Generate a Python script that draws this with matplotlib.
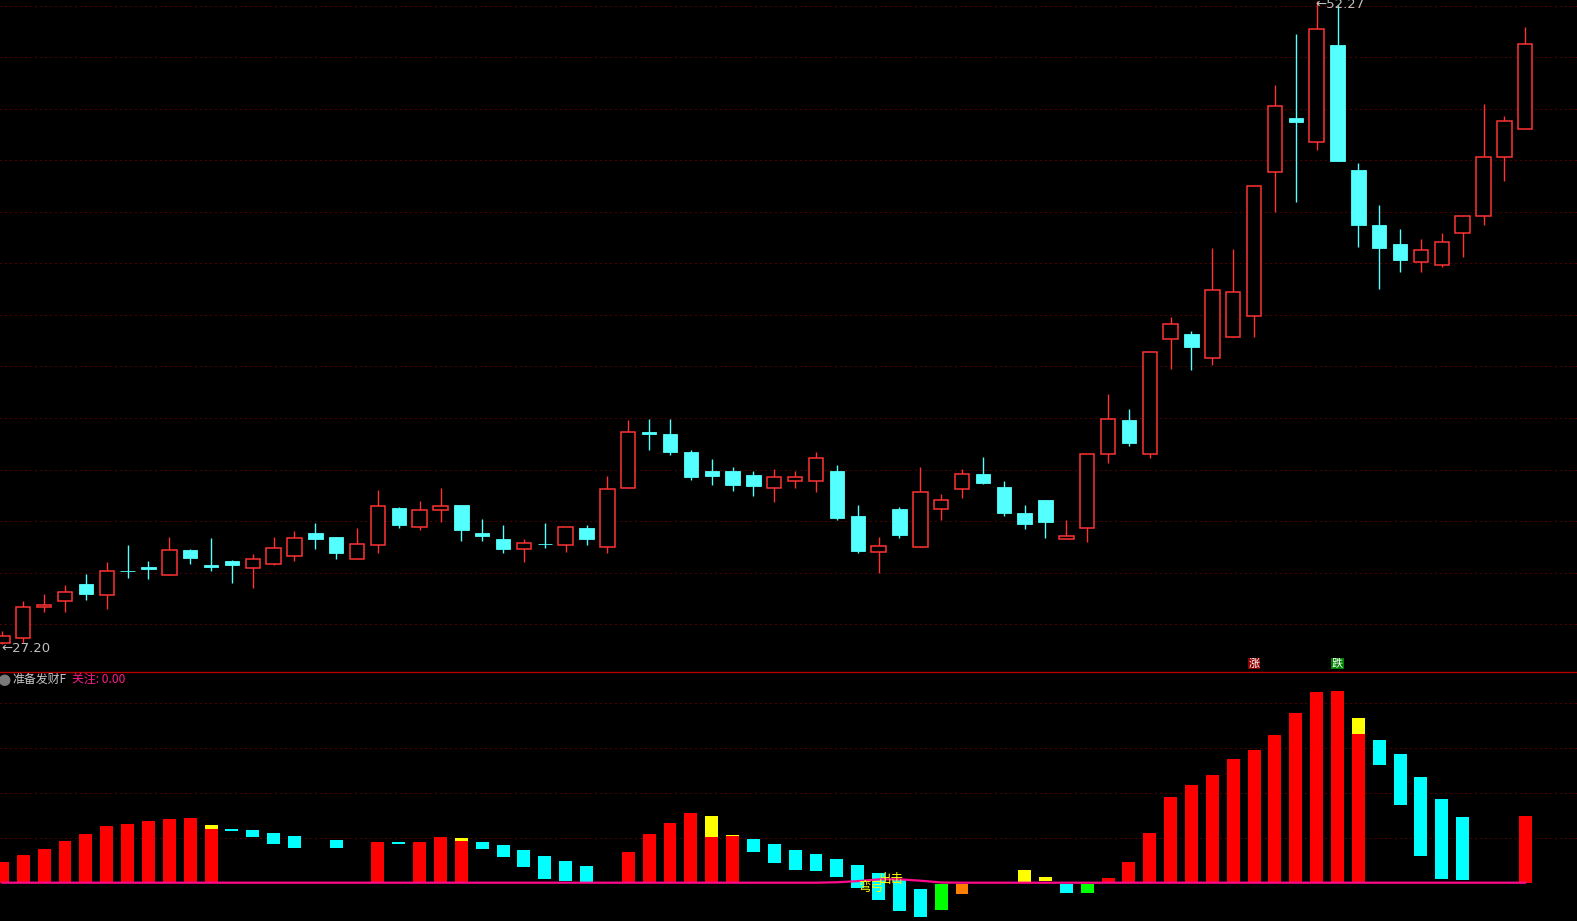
import numpy as np
import matplotlib.pyplot as plt

plt.rcParams['font.family'] = ['Noto Sans CJK SC', 'DejaVu Sans']

# daily candles (open, high, low, close)
opens = [27.24, 27.45, 28.63, 28.87, 29.54, 29.12, 30.05, 30.20, 29.90, 30.87,
         30.28, 30.43, 30.18, 30.33, 30.62, 31.53, 31.37, 30.53, 31.05, 32.50,
         31.77, 32.41, 32.62, 31.53, 31.30, 30.89, 31.11, 31.05, 31.72, 30.97,
         33.27, 35.47, 35.39, 34.69, 33.95, 33.95, 33.79, 33.30, 33.55, 33.55,
         33.95, 32.19, 30.78, 32.47, 30.97, 32.45, 33.23, 33.83, 33.32, 32.31,
         32.82, 31.28, 31.74, 34.62, 35.94, 34.62, 39.11, 39.29, 38.37, 39.16,
         39.98, 45.62, 47.71, 46.77, 50.56, 45.69, 43.54, 42.80, 42.11, 41.99,
         43.22, 43.88, 46.18, 47.27]
highs = [27.71, 28.88, 29.15, 29.50, 29.93, 30.40, 31.06, 30.44, 31.37, 30.91,
         31.33, 30.48, 30.71, 31.37, 31.61, 31.92, 31.37, 31.72, 33.21, 32.54,
         32.78, 33.28, 32.62, 32.08, 31.84, 31.30, 31.92, 31.75, 31.84, 33.75,
         35.94, 35.98, 35.98, 34.77, 34.42, 34.10, 33.95, 34.03, 33.93, 34.69,
         34.18, 32.62, 31.37, 32.54, 34.10, 33.05, 34.03, 34.49, 33.56, 32.62,
         32.82, 32.04, 34.60, 36.95, 36.37, 38.58, 39.96, 39.41, 42.64, 42.61,
         45.05, 49.00, 50.99, 52.27, 52.12, 45.96, 44.32, 43.39, 42.99, 43.23,
         43.88, 48.26, 47.79, 51.26]
lows = [27.20, 27.24, 28.45, 28.46, 28.93, 28.58, 29.79, 29.75, 29.90, 30.33,
        30.06, 29.59, 29.40, 30.29, 30.45, 30.92, 30.53, 30.53, 30.76, 31.74,
        31.66, 31.97, 31.23, 31.23, 30.76, 30.41, 30.96, 30.80, 31.07, 30.76,
        33.27, 34.78, 34.58, 33.61, 33.41, 33.18, 32.98, 32.75, 33.30, 33.14,
        32.05, 30.76, 29.96, 31.35, 30.97, 32.05, 32.91, 33.45, 32.20, 31.70,
        31.35, 31.28, 31.19, 34.26, 34.93, 34.47, 37.93, 37.89, 38.09, 39.16,
        39.18, 44.05, 44.45, 46.48, 46.04, 42.69, 41.06, 41.72, 41.72, 41.91,
        42.30, 43.55, 45.27, 47.27]
closes = [27.51, 28.63, 28.71, 29.22, 29.16, 30.04, 30.03, 30.14, 30.85, 30.57,
          30.21, 30.29, 30.50, 30.93, 31.33, 31.31, 30.76, 31.09, 32.57, 31.85,
          32.41, 32.57, 31.66, 31.42, 30.92, 31.13, 31.09, 31.75, 31.31, 33.23,
          35.46, 35.40, 34.70, 33.72, 33.76, 33.41, 33.37, 33.70, 33.70, 34.44,
          32.13, 30.84, 31.01, 31.46, 33.12, 32.82, 33.82, 33.49, 32.32, 31.89,
          31.97, 31.41, 34.60, 35.96, 35.05, 38.58, 39.67, 38.78, 40.99, 40.92,
          45.05, 48.17, 47.57, 51.17, 46.04, 43.54, 42.66, 42.19, 42.55, 42.87,
          43.88, 46.18, 47.59, 50.59]

# indicator panel
red_idx = [0, 1, 2, 3, 4, 5, 6, 7, 8, 9, 10, 18, 20, 21, 22, 30, 31, 32, 33, 34, 35,
           53, 54, 55, 56, 57, 58, 59, 60, 61, 62, 63, 64, 65, 73]
red_val = [4.6, 6.15, 7.5, 9.3, 10.8, 12.6, 13.0, 13.7, 14.2, 14.4, 11.9, 9.0, 9.0, 10.1, 9.3,
           6.8, 10.8, 13.3, 15.5, 10.1, 10.4,
           1.0, 4.6, 11.0, 19.0, 21.7, 23.9, 27.5, 29.5, 32.8, 37.7, 42.4, 42.6, 33.0, 14.8]
yel_idx = [10, 22, 34, 35, 49, 50, 65]
yel_lo = [11.9, 9.3, 10.1, 10.4, 0.0, 0.4, 33.0]
yel_hi = [12.8, 9.9, 14.8, 10.7, 2.8, 1.3, 36.6]
cyan_idx = [11, 12, 13, 14, 16, 19, 23, 24, 25, 26, 27, 28, 36, 37, 38, 39, 40, 41, 42, 43, 44,
            51, 66, 67, 68, 69, 70]
cyan_lo = [11.5, 10.1, 8.6, 7.7, 7.7, 8.6, 7.5, 5.7, 3.5, 0.8, 0.4, 0.0, 6.8, 4.4, 2.8, 2.6, 1.3,
           -1.2, -3.8, -6.3, -7.6, -2.3, 26.1, 17.3, 5.9, 0.8, 0.6]
cyan_hi = [11.9, 11.7, 11.0, 10.4, 9.5, 9.0, 9.0, 8.4, 7.3, 5.9, 4.8, 3.7, 9.7, 8.6, 7.3, 6.4, 5.3,
           4.0, 2.2, 0.6, -1.4, -0.3, 31.7, 28.6, 23.5, 18.6, 14.6]
green_idx = [45, 52]
green_lo = [-6.1, -2.3]
green_hi = [-0.3, -0.3]
orange_idx = [46]
orange_lo = [-2.5]
orange_hi = [-0.3]
line_val = [0, 0, 0, 0, 0, 0, 0, 0, 0, 0, 0, 0, 0, 0, 0, 0, 0, 0, 0, 0,
            0, 0, 0, 0, 0, 0, 0, 0, 0, 0, 0, 0, 0, 0, 0, 0, 0, 0, 0, 0,
            0.1, 0.35, 0.75, 0.75, 0.45, 0.05, 0, 0, 0, 0, 0, 0, 0, 0, 0, 0, 0, 0, 0, 0,
            0, 0, 0, 0, 0, 0, 0, 0, 0, 0, 0, 0, 0, 0]

o = np.array(opens)
h = np.array(highs)
l = np.array(lows)
c = np.array(closes)
x = np.arange(len(o))

RED = '#ff3232'
CYAN = '#54ffff'
GRID = '#a00000'
dots = (0, (1, 4))

W, H = 1577, 921
sep = 671.5
fig = plt.figure(figsize=(W / 100, H / 100), dpi=100, facecolor='black')
ax1 = fig.add_axes([0, (H - sep) / H, 1, sep / H])
ax2 = fig.add_axes([0, 0, 1, (H - sep) / H])
for ax in (ax1, ax2):
    ax.set_facecolor('black')
    ax.set_xticks([])
    ax.set_yticks([])
    for s in ax.spines.values():
        s.set_visible(False)
    ax.set_xlim(-0.117, 75.48)

# price panel
ax1.set_ylim(26.13, 52.31)
for yv in np.linspace(27.98, 52.08, 13):
    ax1.axhline(yv, color=GRID, lw=0.72, ls=dots, zorder=0)

up = c >= o
dn = ~up
ax1.vlines(x[up], l[up], h[up], color=RED, lw=1.0, zorder=2)
ax1.bar(x[up], c[up] - o[up], bottom=o[up], width=0.69, facecolor='black',
        edgecolor=RED, linewidth=1.1, zorder=3)
ax1.vlines(x[dn], l[dn], h[dn], color=CYAN, lw=1.0, zorder=2)
ax1.bar(x[dn], o[dn] - c[dn], bottom=c[dn], width=0.69, facecolor=CYAN,
        edgecolor=CYAN, linewidth=0.6, zorder=3)

i_lo = int(np.argmin(l))
i_hi = int(np.argmax(h))
ax1.annotate('\u2190' + f'{l[i_lo]:.2f}', xy=(i_lo, l[i_lo]), xytext=(-1, -3),
             textcoords='offset points', color='#c0c0c0', fontsize=9.5,
             family='DejaVu Sans', ha='left', va='center')
ax1.annotate('\u2190' + f'{h[i_hi]:.2f}', xy=(i_hi, h[i_hi]), xytext=(-1, -2.5),
             textcoords='offset points', color='#c0c0c0', fontsize=9.5,
             family='DejaVu Sans', ha='left', va='center')

tr = ax1.get_xaxis_transform()
ax1.text(60, 0.012, '涨', transform=tr, color='white', fontsize=8, ha='center', va='center',
         bbox=dict(facecolor='#8b0000', edgecolor='none', pad=0.6), zorder=5)
ax1.text(64, 0.012, '跌', transform=tr, color='white', fontsize=8, ha='center', va='center',
         bbox=dict(facecolor='#008000', edgecolor='none', pad=0.6), zorder=5)

# indicator panel
ax2.set_ylim(-8.51, 46.93)
ax2.spines['top'].set_visible(True)
ax2.spines['top'].set_color('#b40000')
ax2.spines['top'].set_linewidth(1.0)
for yv in [10, 20, 30, 40]:
    ax2.axhline(yv, color=GRID, lw=0.72, ls=dots, zorder=0)

bw = 0.62
ax2.bar(red_idx, red_val, width=bw, color='#ff0000', zorder=2)
ax2.bar(yel_idx, np.array(yel_hi) - np.array(yel_lo), bottom=yel_lo, width=bw, color='#ffff00', zorder=2)
ax2.bar(cyan_idx, np.array(cyan_hi) - np.array(cyan_lo), bottom=cyan_lo, width=bw, color='#00ffff', zorder=2)
ax2.bar(green_idx, np.array(green_hi) - np.array(green_lo), bottom=green_lo, width=bw, color='#00ff00', zorder=2)
ax2.bar(orange_idx, np.array(orange_hi) - np.array(orange_lo), bottom=orange_lo, width=bw, color='#ff8000', zorder=2)
ax2.plot(x, line_val, color='#ff0a8c', lw=1.6, zorder=3)

ax2.text(41, -1.0, '弯弓', color='#ffff00', fontsize=9, ha='left', va='center', zorder=4)
ax2.text(42, 0.8, '出击', color='#ffff00', fontsize=9, ha='left', va='center', zorder=4)

ty = 1 - 679.5 / H
fig.text(-3 / W, ty, '\u25cf', color='#7a7a7a', fontsize=11, va='center', family='DejaVu Sans')
fig.text(12 / W, ty, '准备发财F', color='#c8c8c8', fontsize=8.6, va='center')
fig.text(72 / W, ty, '关注: 0.00', color='#ff1a8c', fontsize=8.6, va='center')

fig.savefig('out.png', dpi=100, facecolor='black')
